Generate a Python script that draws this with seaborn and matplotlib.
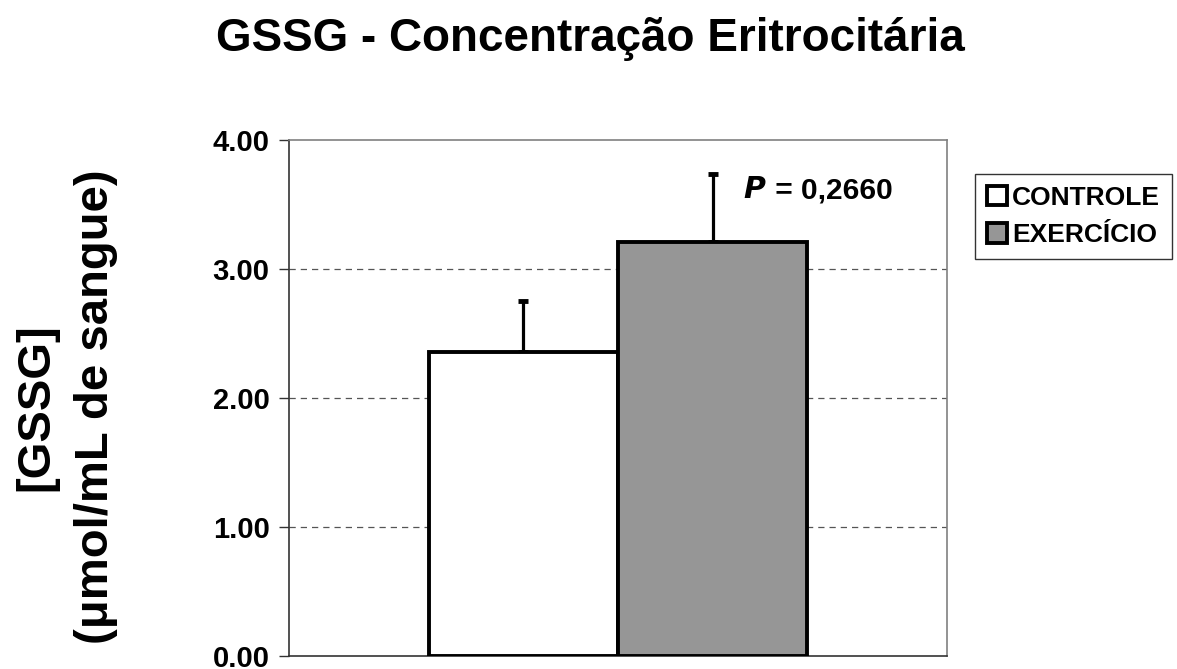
import matplotlib
matplotlib.use("Agg")
import matplotlib.pyplot as plt
import pandas as pd
import seaborn as sns

groups = ["CONTROLE", "EXERCÍCIO"]
means = [2.36, 3.21]
errors = [0.39, 0.53]
bar_colors = ["#ffffff", "#969696"]
y_ticks = [0.0, 1.0, 2.0, 3.0, 4.0]
p_label = "P"
p_value = " = 0,2660"

sns.set_style("white")
plt.rcParams["font.family"] = ["Liberation Sans", "DejaVu Sans"]
plt.rcParams["font.weight"] = "bold"
for key in ["text.color", "axes.labelcolor", "xtick.color", "ytick.color"]:
    plt.rcParams[key] = "black"

df = pd.DataFrame({"cat": ["GSSG"] * len(groups), "grupo": groups, "valor": means})

fig = plt.figure(figsize=(11.77, 6.69), dpi=100)
ax = fig.add_axes([289 / 1177, 13 / 669, 658 / 1177, 516 / 669])

sns.barplot(data=df, x="cat", y="valor", hue="grupo", hue_order=groups,
            palette=bar_colors, width=0.575, edgecolor="black", linewidth=2.8,
            errorbar=None, legend=False, ax=ax, zorder=3)

bars = ax.patches[:len(groups)]
centers = [b.get_x() + b.get_width() / 2 for b in bars]
ax.errorbar(centers, means, yerr=[[0] * len(errors), errors], fmt="none",
            ecolor="black", elinewidth=2.3, capsize=3.5, capthick=3.5, zorder=2)

ax.set_xlim(-0.5, 0.5)
ax.set_ylim(0, 4)
ax.set_yticks(y_ticks)
ax.set_yticklabels([f"{t:.2f}" for t in y_ticks], fontsize=21, fontweight="bold")
ax.set_xticks([])
ax.set_xlabel("")
ax.set_ylabel("[GSSG]\n(\u03bcmol/mL de sangue)", fontsize=34, fontweight="bold",
              linespacing=1.45)
ax.yaxis.set_label_coords(-0.26, 0.483)
ax.tick_params(axis="y", direction="out", length=7.5, width=1, color="#333333",
               left=True, pad=6.5)

for yv in y_ticks[1:-1]:
    ax.axhline(yv, color="#555555", lw=0.9, ls=(0, (5, 4)), zorder=1)

for side in ["top", "right"]:
    ax.spines[side].set_color("#808080")
    ax.spines[side].set_linewidth(1.2)
for side in ["left", "bottom"]:
    ax.spines[side].set_color("#333333")
    ax.spines[side].set_linewidth(1.2)

ax.text(0.226, 3.61, "$\\mathbfit{" + p_label + "}$", ha="right", va="center",
        fontsize=21.5, fontweight="bold")
ax.text(0.226, 3.61, p_value, ha="left", va="center", fontsize=21.5, fontweight="bold")

leg = ax.legend(handles=bars, labels=groups, loc="upper left",
                bbox_to_anchor=(975 / 1177, 1 - 174 / 669), bbox_transform=fig.transFigure,
                borderaxespad=0, frameon=True, fancybox=False, fontsize=19,
                handlelength=0.75, handleheight=0.75, handletextpad=0.2,
                labelspacing=0.5, borderpad=0.45)
leg.get_frame().set_edgecolor("black")
leg.get_frame().set_linewidth(1.0)
for t in leg.get_texts():
    t.set_fontweight("bold")

fig.suptitle("GSSG - Concentração Eritrocitária", fontsize=33, fontweight="bold",
             x=0.502, y=1 - 51 / 669, va="baseline")

fig.savefig("out.png", dpi=100)
